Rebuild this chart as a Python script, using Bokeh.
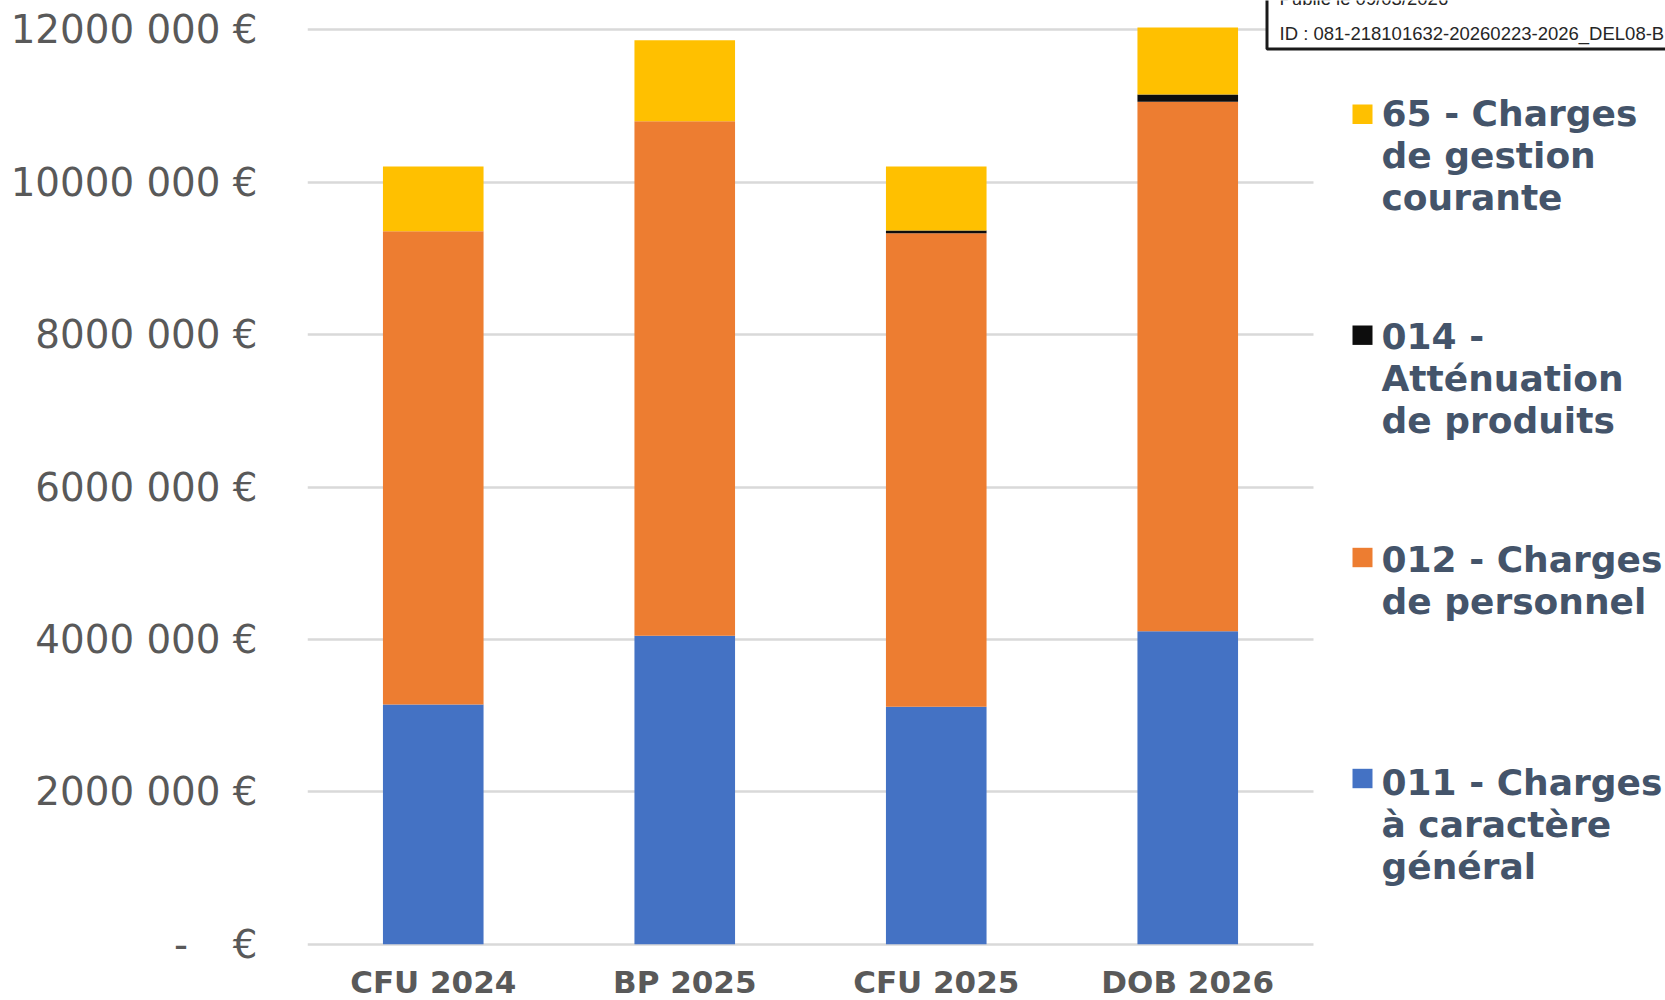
from bokeh.plotting import figure
from bokeh.models import Range1d, FixedTicker, Label, LabelSet, BoxAnnotation, ColumnDataSource
from bokeh.core.properties import value
from bokeh.embed import file_html
from bokeh.resources import INLINE

# ---------------- data ----------------
categories = ["CFU 2024", "BP 2025", "CFU 2025", "DOB 2026"]
charges_011 = [3146000, 4047000, 3117000, 4108000]
charges_012 = [6211000, 6753000, 6213000, 6947000]
charges_014 = [0, 0, 35000, 96000]
charges_65 = [849000, 1063000, 841000, 879000]
series_keys = ["c011", "c012", "c014", "c65"]
series_labels = [
    "011 - Charges\nà caractère\ngénéral",
    "012 - Charges\nde personnel",
    "014 -\nAtténuation\nde produits",
    "65 - Charges\nde gestion\ncourante",
]
series_colors = ["#4472C4", "#ED7D31", "#0D0D0D", "#FFC000"]
tick_values = [0, 2000000, 4000000, 6000000, 8000000, 10000000, 12000000]
tick_labels = ["-\u00a0\u00a0\u00a0\u2009€", "2000\u00a0000\u00a0€", "4000\u00a0000\u00a0€",
               "6000\u00a0000\u00a0€", "8000\u00a0000\u00a0€", "10000\u00a0000\u00a0€",
               "12000\u00a0000\u00a0€"]
stamp_lines = ["Publié le 09/03/2026", "ID : 081-218101632-20260223-2026_DEL08-B"]

# ---------------- layout ----------------
W, H = 1665, 1000
FL = 307                    # frame left (y-axis border)
UX = 251.5                  # pixels per category
Y0 = 943.7                  # pixel row of value 0
PPM = 76.2                  # pixels per million
x_start = -0.5
x_end = x_start + (W - FL) / UX
y_start = -(H - Y0) / PPM * 1e6
y_end = y_start + H / PPM * 1e6
n = len(categories)


def dx(fx):
    return x_start + (fx - FL) / UX


def dy(fy):
    return (Y0 - fy) / PPM * 1e6


xs = list(range(n))
source = ColumnDataSource(dict(x=xs, c011=charges_011, c012=charges_012,
                               c014=charges_014, c65=charges_65))

p = figure(x_range=Range1d(x_start, x_end), y_range=Range1d(y_start, y_end),
           width=W, height=H, x_axis_location=None,
           output_backend="svg", toolbar_location=None,
           min_border_left=FL, min_border_right=0, min_border_top=0,
           min_border_bottom=0)
p.outline_line_color = None
p.background_fill_color = "white"
p.border_fill_color = "white"

p.vbar_stack(series_keys, x="x", width=0.4, color=series_colors, source=source,
             line_width=0)

p.xgrid.grid_line_color = None
p.ygrid.grid_line_color = "#D9D9D9"
p.ygrid.grid_line_width = 2.5

p.yaxis.ticker = FixedTicker(ticks=tick_values)
p.yaxis.major_label_overrides = dict(zip(tick_values, tick_labels))
p.yaxis.axis_line_color = None
p.yaxis.major_tick_line_color = None
p.yaxis.minor_tick_line_color = None
p.yaxis.major_label_text_font = "DejaVu Sans"
p.yaxis.major_label_text_font_size = "38.8px"
p.yaxis.major_label_text_color = "#595959"
p.yaxis.major_label_standoff = 44

# white cover so that gridlines stop after the last category
p.add_layout(BoxAnnotation(left=n - 0.5, right=x_end + 1, bottom=y_start, top=y_end,
                           fill_color="white", fill_alpha=1.0, line_color=None,
                           level="annotation"))

# category labels under the bars
cat_src = ColumnDataSource(dict(x=xs, y=[dy(992)] * n, text=categories))
p.add_layout(LabelSet(x="x", y="y", text="text", source=cat_src,
                      text_font=value("DejaVu Sans"), text_font_style="bold",
                      text_font_size="31px", text_color="#595959",
                      text_align="center", text_baseline="alphabetic"))

# ---------------- legend (top to bottom) ----------------
legend_order = [3, 2, 1, 0]
square_centers = [113.7, 334.7, 557.0, 778.0]
first_lines = [112.6, 335.5, 558.6, 781.5]
line_gap = 42.0
for idx, cy, base in zip(legend_order, square_centers, first_lines):
    p.add_layout(BoxAnnotation(left=dx(1352), right=dx(1372), bottom=dy(cy + 9.7), top=dy(cy - 9.7),
                               fill_color=series_colors[idx], fill_alpha=1.0, line_color=None,
                               level="annotation"))
    for k, line in enumerate(series_labels[idx].split("\n")):
        p.add_layout(Label(x=dx(1381), y=dy(base + k * line_gap), text=line,
                           text_font="DejaVu Sans", text_font_style="bold",
                           text_font_size="36px", text_color="#44546A",
                           text_baseline="alphabetic", text_align="left"))

# ---------------- stamp box ----------------
p.add_layout(BoxAnnotation(left=dx(1266.5), right=x_end + 1, bottom=dy(48.5), top=y_end + 1e6,
                           fill_color="white", fill_alpha=1.0, line_color="#1A1A1A",
                           line_alpha=1.0, line_width=3, level="annotation"))
for base, line in zip([-2, 33], stamp_lines):
    p.add_layout(Label(x=dx(1279), y=dy(base), text=line, text_font="Liberation Sans",
                       text_font_size="18.5px", text_color="#262626",
                       text_baseline="alphabetic"))

open("out.html", "w").write(file_html(p, INLINE))
